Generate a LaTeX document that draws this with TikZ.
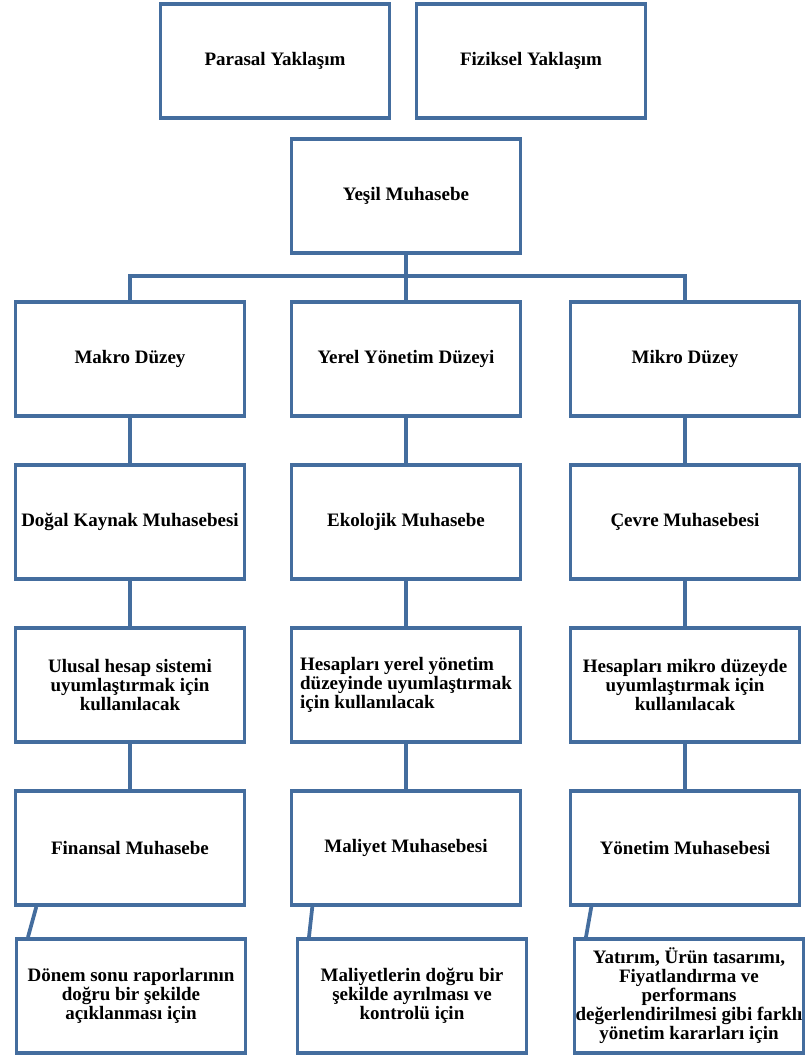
\documentclass[tikz,border=0pt]{standalone}
\usepackage{fontspec}
\setmainfont{Liberation Serif}
\usepackage{tikz}
\definecolor{cizgi}{RGB}{68,109,158}

\begin{document}
\begin{tikzpicture}[x=0.75pt,y=-0.75pt,
  kutu/.style={shape=rectangle,draw=cizgi,line width=2.8pt,minimum width=171.75pt,minimum height=85.5pt,
    inner sep=0,align=center,font=\fontsize{14.25pt}{14.25pt}\selectfont\bfseries},
  bag/.style={draw=cizgi,line width=2.8pt}]
\useasboundingbox (0,0) rectangle (807,1056);
\node[kutu] (p1) at (275,61) {Parasal Yaklaşım};
\node[kutu] (p2) at (531,61) {Fiziksel Yaklaşım};
\node[kutu] (y0) at (406,196) {Yeşil Muhasebe};
\foreach \x/\t [count=\i] in {130/{Makro Düzey},406/{Yerel Yönetim Düzeyi},685/{Mikro Düzey}}
  \node[kutu] (a\i) at (\x,359) {\t};
\foreach \x/\t [count=\i] in {130/{Doğal Kaynak Muhasebesi},406/{Ekolojik Muhasebe},685/{Çevre Muhasebesi}}
  \node[kutu] (b\i) at (\x,522) {\t};
\node[kutu] (c1) at (130,685) {Ulusal hesap sistemi\\uyumlaştırmak için\\kullanılacak};
\node[kutu,align=left] (c2) at (406,685) {Hesapları yerel yönetim\\düzeyinde uyumlaştırmak\\için kullanılacak};
\node[kutu] (c3) at (685,685) {Hesapları mikro düzeyde\\uyumlaştırmak için\\kullanılacak};
\foreach \x/\t [count=\i] in {130/{Finansal Muhasebe},406/{Maliyet Muhasebesi},685/{Yönetim Muhasebesi}}
  \node[kutu] (d\i) at (\x,848) {\t};
\node[kutu] (e1) at (131,996) {Dönem sonu raporlarının\\doğru bir şekilde\\açıklanması için};
\node[kutu] (e2) at (412,996) {Maliyetlerin doğru bir\\şekilde ayrılması ve\\kontrolü için};
\node[kutu] (e3) at (689,996) {Yatırım, Ürün tasarımı,\\Fiyatlandırma ve\\performans\\değerlendirilmesi gibi farklı\\yönetim kararları için};
% baglantilar
\coordinate (bar) at (406,276);
\draw[bag] (y0) -- (bar);
\draw[bag] (a1.north) |- (bar) -| (a3.north);
\draw[bag] (bar) -- (a2.north);
\foreach \i in {1,2,3}{%
  \draw[bag] (a\i) -- (b\i);
  \draw[bag] (b\i) -- (c\i);
  \draw[bag] (c\i) -- (d\i);
  \draw[bag] ([xshift=17pt]d\i.south west) -- ([xshift=10pt]e\i.north west);}
\end{tikzpicture}
\end{document}
